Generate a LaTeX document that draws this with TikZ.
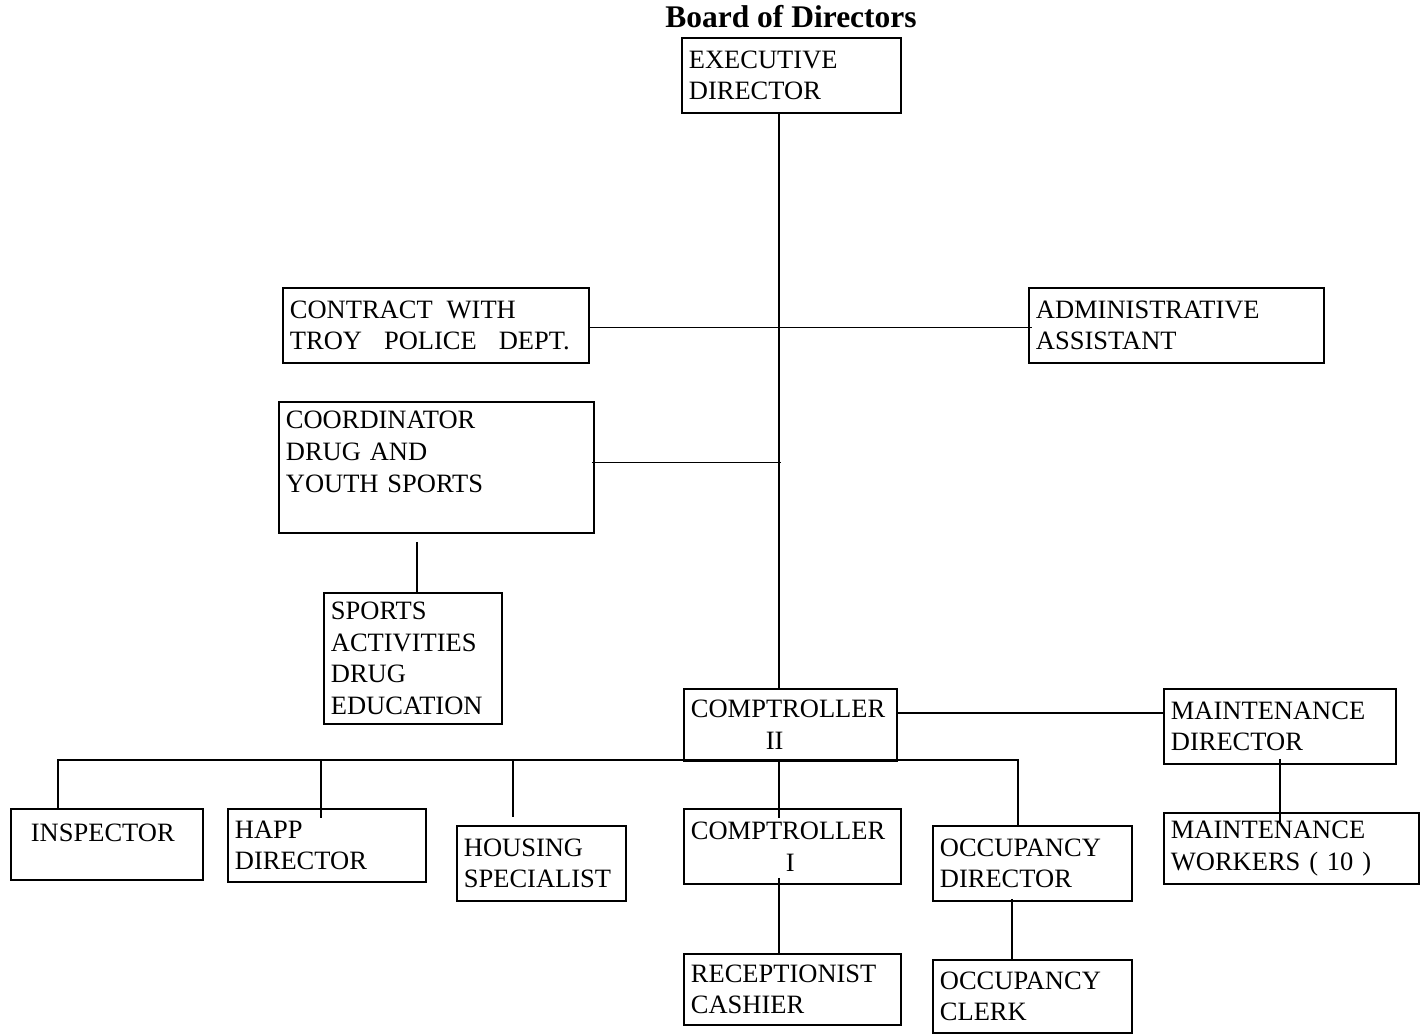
\documentclass[tikz,border=0pt]{standalone}
\usepackage{fontspec}
\setmainfont{Liberation Serif}

\begin{document}
\begin{tikzpicture}[x = 1pt, y = -1pt]
\tikzstyle{boxStyle} = [draw, line width = 1.8pt, anchor = north west, align = left, inner xsep = 7pt, inner ysep = 0pt, font = \fontsize{26.5}{31.7}\selectfont]
\tikzstyle{linkStyle} = [line width = 1.8pt]
\useasboundingbox (0,0) rectangle (1420,1034);
\node[font = \fontsize{31.5}{36}\selectfont\bfseries, anchor = base] (board) at (791,27) {Board of Directors};
\node[boxStyle, text width = 205pt, minimum height = 75pt] (exec) at (681,37) {EXECUTIVE\\DIRECTOR};
\node[boxStyle, text width = 292pt, minimum height = 75pt] (contract) at (282,287) {CONTRACT\hspace{14pt}WITH\\\mbox{TROY\hspace{22pt}POLICE\hspace{22pt}DEPT.}};
\node[boxStyle, text width = 281pt, minimum height = 75pt] (admin) at (1028,287) {ADMINISTRATIVE\\ASSISTANT};
\node[boxStyle, text width = 301pt, minimum height = 131pt] (coord) at (278,401) {COORDINATOR\\DRUG AND\\YOUTH SPORTS\\ \mbox{}};
\node[boxStyle, text width = 164pt, minimum height = 131pt] (sports) at (323,592) {SPORTS\\ACTIVITIES\\DRUG\\EDUCATION};
\node[boxStyle, text width = 199pt, minimum height = 72pt] (comp2) at (683,688) {COMPTROLLER\\\hspace*{75pt}II};
\node[boxStyle, text width = 218pt, minimum height = 75pt] (maintdir) at (1163,688) {MAINTENANCE\\DIRECTOR};
\node[boxStyle, text width = 178pt, minimum height = 71pt, text depth = 24pt] (insp) at (10,808) {\hspace*{13pt}INSPECTOR};
\node[boxStyle, text width = 184pt, minimum height = 73pt] (happ) at (227,808) {HAPP\\DIRECTOR};
\node[boxStyle, text width = 155pt, minimum height = 75pt] (hous) at (456,825) {HOUSING\\SPECIALIST};
\node[boxStyle, text width = 203pt, minimum height = 75pt] (comp1) at (683,808) {COMPTROLLER\\\hspace*{95pt}I};
\node[boxStyle, text width = 185pt, minimum height = 75pt] (occdir) at (932,825) {OCCUPANCY\\DIRECTOR};
\node[boxStyle, text width = 241pt, minimum height = 71pt] (workers) at (1163,812) {MAINTENANCE\\WORKERS ( 10 )};
\node[boxStyle, text width = 203pt, minimum height = 71pt] (recep) at (683,953) {RECEPTIONIST\\CASHIER};
\node[boxStyle, text width = 185pt, minimum height = 73pt] (clerk) at (932,959) {OCCUPANCY\\CLERK};
\coordinate (trunk) at (779,0);
\coordinate (sportsLink) at (417,0);
\coordinate (clerkLink) at (1012,0);
\coordinate (contractLink) at ([yshift = -2pt]contract.east);
\coordinate (coordLink) at ([yshift = 5pt]coord.east);
\coordinate (maintLink) at ([yshift = 12pt]comp2.east);
\coordinate (busInsp) at (58,760);
\coordinate (busHapp) at (321,760);
\coordinate (busHous) at (513,760);
\coordinate (busOcc) at (1018,760);
\draw[linkStyle] (exec.south -| trunk) -- (comp2.north -| trunk);
\draw[linkStyle, shorten >= -4pt] (contractLink) -- (contractLink -| admin.west);
\draw[linkStyle, shorten <= -3pt, shorten >= -2pt] (coordLink) -- (coordLink -| trunk);
\draw[linkStyle, shorten <= 8pt] (coord.south -| sportsLink) -- (sports.north -| sportsLink);
\draw[linkStyle] (maintLink) -- (maintLink -| maintdir.west);
\draw[linkStyle, shorten <= -6pt, shorten >= -10pt] (maintdir.south) -- (maintdir.south |- workers.north);
\draw[linkStyle] (busInsp |- insp.north) -- (busInsp) -- (busOcc) -- (busOcc |- occdir.north);
\draw[linkStyle, shorten >= -10pt] (busHapp) -- (busHapp |- happ.north);
\draw[linkStyle, shorten >= 8pt] (busHous) -- (busHous |- hous.north);
\draw[linkStyle, shorten >= -10pt] (comp2.south -| trunk) -- (comp1.north -| trunk);
\draw[linkStyle, shorten <= -7pt] (comp1.south -| trunk) -- (recep.north -| trunk);
\draw[linkStyle, shorten <= -3pt] (occdir.south -| clerkLink) -- (clerk.north -| clerkLink);
\end{tikzpicture}
\end{document}
